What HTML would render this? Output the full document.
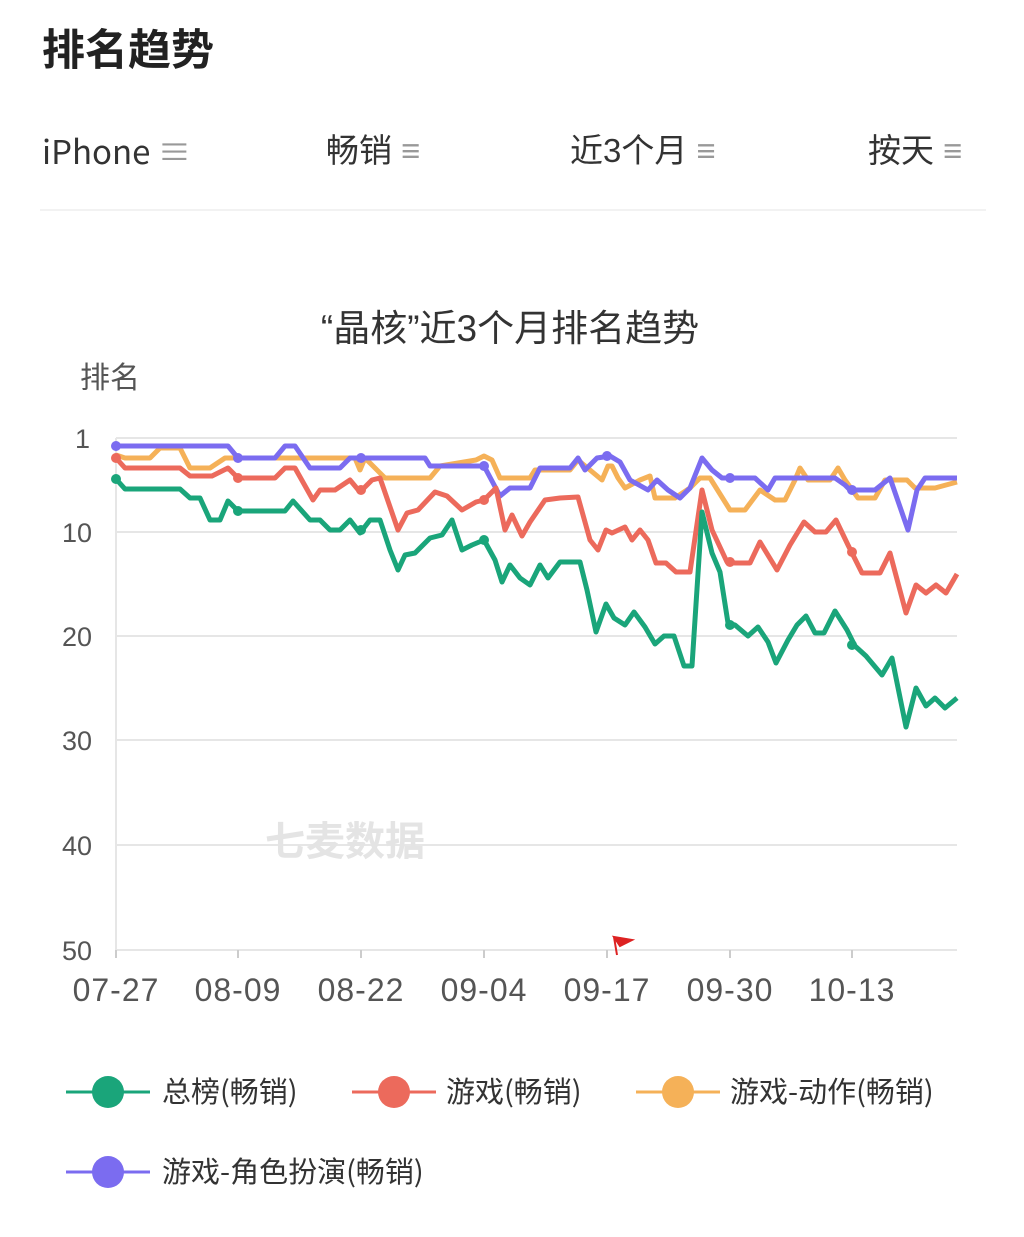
<!DOCTYPE html>
<html><head><meta charset="utf-8"><style>
html,body{margin:0;padding:0;background:#fff;}
body{width:1024px;height:1237px;position:relative;overflow:hidden;font-family:"Liberation Sans","Noto Sans CJK SC",sans-serif;color:#333;}
.t{position:absolute;white-space:nowrap;line-height:1;}
.f{top:134px;font-size:33px;}
</style></head><body>
<div class="t" style="left:42px;top:30px;font-size:43px;font-weight:bold;color:#222;">排名趋势</div>
<div class="t f" style="left:42px;font-family:'Noto Sans CJK SC',sans-serif;">iPhone <span style="color:#999">≡</span></div>
<div class="t f" style="left:326px;">畅销 <span style="color:#999">≡</span></div>
<div class="t f" style="left:570px;">近3个月 <span style="color:#999">≡</span></div>
<div class="t f" style="left:868px;">按天 <span style="color:#999">≡</span></div>
<div style="position:absolute;left:40px;top:209px;width:946px;height:2px;background:#f2f2f2"></div>
<svg width="1024" height="1237" style="position:absolute;left:0;top:0" font-family="Liberation Sans, Noto Sans CJK SC, sans-serif">
<text x="510" y="341" font-size="37" text-anchor="middle" fill="#333">“晶核”近3个月排名趋势</text>
<text x="80" y="388" font-size="30" fill="#555">排名</text>
<g stroke="#e6e6e6" stroke-width="2">
<line x1="116" y1="438" x2="957" y2="438"/><line x1="116" y1="532" x2="957" y2="532"/>
<line x1="116" y1="636" x2="957" y2="636"/><line x1="116" y1="740" x2="957" y2="740"/>
<line x1="116" y1="845" x2="957" y2="845"/><line x1="116" y1="950" x2="957" y2="950"/>
<line x1="116" y1="438" x2="116" y2="955"/>
</g>
<g font-size="27" fill="#555" text-anchor="end">
<text x="90" y="448">1</text><text x="92" y="542">10</text><text x="92" y="646">20</text>
<text x="92" y="750">30</text><text x="92" y="855">40</text><text x="92" y="960">50</text>
</g>
<g font-size="32" fill="#555" text-anchor="middle" letter-spacing="1">
<text x="116" y="1001">07-27</text><text x="238" y="1001">08-09</text><text x="361" y="1001">08-22</text>
<text x="484" y="1001">09-04</text><text x="607" y="1001">09-17</text><text x="730" y="1001">09-30</text><text x="852" y="1001">10-13</text>
</g>
<g stroke="#ccc" stroke-width="2"><line x1="116" y1="950" x2="116" y2="958"/><line x1="238" y1="950" x2="238" y2="958"/><line x1="361" y1="950" x2="361" y2="958"/><line x1="484" y1="950" x2="484" y2="958"/><line x1="607" y1="950" x2="607" y2="958"/><line x1="730" y1="950" x2="730" y2="958"/><line x1="852" y1="950" x2="852" y2="958"/></g>
<text x="345" y="855" font-size="40" fill="#e4e4e4" text-anchor="middle" font-weight="bold">七麦数据</text>
<path d="M614 937 L632 940 L620 946 Z M614 937 L617 955" fill="#d22" stroke="#d22" stroke-width="2"/>
<g fill="none" stroke-width="5" stroke-linejoin="round">
<polyline stroke="#f5b158" points="116,455 125,458 150,458 160,448 180,448 190,468 210,468 225,458 355,458 360,470 365,458 385,478 430,478 440,466 476,460 484,456 492,460 500,478 530,478 535,470 570,470 578,460 590,470 602,480 608,466 612,466 618,478 625,488 640,480 650,476 655,498 675,498 690,488 700,478 710,478 730,510 745,510 760,490 775,500 785,500 795,480 800,468 808,480 830,480 838,468 845,480 858,498 875,498 885,480 907,480 915,488 935,488 957,482"/>
<polyline stroke="#7b6cf0" points="116,446 228,446 238,458 275,458 285,446 295,446 310,468 340,468 350,458 425,458 430,466 484,466 500,496 510,488 530,488 540,468 570,468 578,458 585,470 597,458 610,456 620,462 630,480 648,490 657,480 668,490 680,498 690,488 702,458 712,470 722,478 755,478 768,490 775,478 835,478 845,485 850,490 875,490 890,478 908,530 917,490 925,478 957,478"/>
<polyline stroke="#ec6a5c" points="116,458 125,468 180,468 190,476 212,476 228,468 238,478 275,478 285,468 295,468 313,500 320,490 335,490 350,480 360,492 372,480 380,478 398,530 407,513 418,510 435,492 447,496 462,510 476,502 484,500 496,488 505,530 512,515 522,536 530,522 545,500 560,498 578,497 590,540 598,550 606,530 612,533 625,527 632,540 640,530 648,540 656,563 666,563 676,572 690,572 702,490 712,530 727,562 735,563 750,563 760,542 777,570 790,545 804,522 815,532 826,532 836,520 848,545 862,573 880,573 890,553 906,613 916,585 926,593 936,585 946,593 957,574"/>
<polyline stroke="#1aa57a" points="116,479 125,489 180,489 190,498 200,498 210,520 220,520 228,501 238,511 285,511 293,501 310,520 320,520 330,530 340,530 350,520 360,533 370,520 380,520 390,550 398,570 405,555 415,553 430,538 442,535 452,520 462,550 472,545 484,540 495,560 502,582 510,565 520,578 530,585 540,565 548,578 560,562 580,562 587,590 596,632 606,604 614,618 625,625 634,612 645,627 655,644 664,636 674,636 684,666 692,666 702,512 712,553 720,572 728,623 735,625 748,636 758,627 768,642 776,663 788,640 797,625 806,616 815,633 824,633 835,611 847,630 855,646 866,656 882,675 892,658 906,727 916,688 926,706 935,698 945,708 957,698"/>
</g>
<g>
<circle cx="116" cy="479" r="5" fill="#1aa57a"/><circle cx="238" cy="511" r="5" fill="#1aa57a"/><circle cx="361" cy="530" r="5" fill="#1aa57a"/><circle cx="484" cy="540" r="5" fill="#1aa57a"/><circle cx="730" cy="625" r="5" fill="#1aa57a"/><circle cx="852" cy="645" r="5" fill="#1aa57a"/>
<circle cx="116" cy="458" r="5" fill="#ec6a5c"/><circle cx="238" cy="478" r="5" fill="#ec6a5c"/><circle cx="361" cy="490" r="5" fill="#ec6a5c"/><circle cx="484" cy="500" r="5" fill="#ec6a5c"/><circle cx="730" cy="562" r="5" fill="#ec6a5c"/><circle cx="852" cy="552" r="5" fill="#ec6a5c"/>
<circle cx="116" cy="446" r="5" fill="#7b6cf0"/><circle cx="238" cy="458" r="5" fill="#7b6cf0"/><circle cx="361" cy="458" r="5" fill="#7b6cf0"/><circle cx="484" cy="466" r="5" fill="#7b6cf0"/><circle cx="607" cy="456" r="5" fill="#7b6cf0"/><circle cx="730" cy="478" r="5" fill="#7b6cf0"/><circle cx="852" cy="490" r="5" fill="#7b6cf0"/>
</g>
<g font-size="29" fill="#333" font-family="Noto Sans CJK SC, sans-serif">
<line x1="66" y1="1092" x2="150" y2="1092" stroke="#1aa57a" stroke-width="3"/><circle cx="108" cy="1092" r="16" fill="#1aa57a"/><text x="162" y="1102">总榜(畅销)</text>
<line x1="352" y1="1092" x2="436" y2="1092" stroke="#ec6a5c" stroke-width="3"/><circle cx="394" cy="1092" r="16" fill="#ec6a5c"/><text x="446" y="1102">游戏(畅销)</text>
<line x1="636" y1="1092" x2="720" y2="1092" stroke="#f5b158" stroke-width="3"/><circle cx="678" cy="1092" r="16" fill="#f5b158"/><text x="730" y="1102">游戏-动作(畅销)</text>
<line x1="66" y1="1172" x2="150" y2="1172" stroke="#7b6cf0" stroke-width="3"/><circle cx="108" cy="1172" r="16" fill="#7b6cf0"/><text x="162" y="1182">游戏-角色扮演(畅销)</text>
</g>
</svg>
</body></html>
